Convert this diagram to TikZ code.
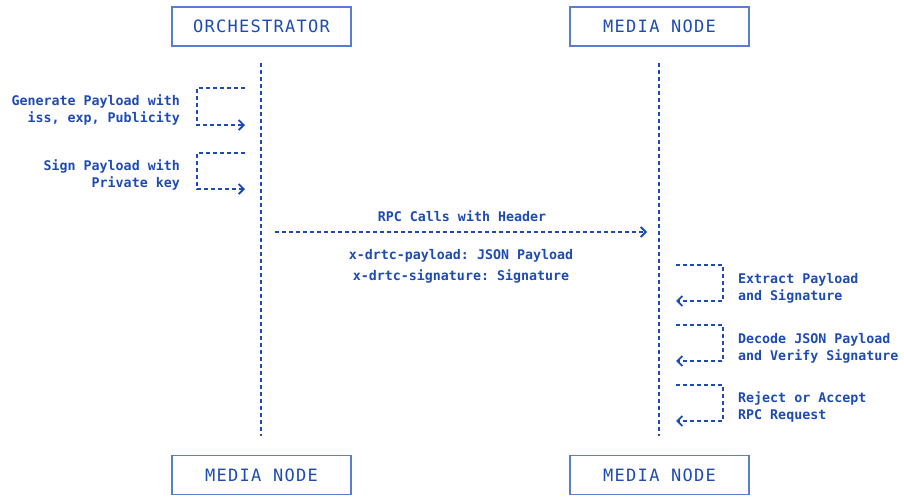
\documentclass[tikz,border=0pt]{standalone}
\usepackage{fontspec}
\setmonofont{DejaVu Sans Mono}
\newfontfamily\headfont[LetterSpace=7.5]{DejaVu Sans Mono}
\usetikzlibrary{arrows.meta}
\definecolor{ink}{HTML}{1E4AB4}
\definecolor{frame}{HTML}{5A7CD2}
\begin{document}
\begin{tikzpicture}[x=1pt,y=-1pt,
  actor/.style={draw=frame,line width=1.4pt,minimum width=179pt,minimum height=39pt,
    inner sep=0pt,text=ink,font=\headfont\fontsize{17}{20}\selectfont},
  lifeline/.style={draw=ink,line width=1.9pt,dash pattern=on 3.5pt off 3.5pt},
  msg/.style={draw=ink,line width=1.7pt,dash pattern=on 4pt off 3pt},
  tip/.style={-{Straight Barb[length=5pt,width=10pt,line width=1.8pt]}},
  lbl/.style={text=ink,font=\ttfamily\bfseries\fontsize{13.3}{17}\selectfont,inner sep=0pt}
]
\useasboundingbox (0,0) rectangle (904,496);

% participants
\node[actor] (orch) at (261.5,26.5) {ORCHESTRATOR};
\node[actor] (mediaT) at (659.5,26.5) {MEDIA NODE};
\node[actor] (orchB) at (261.5,475) {MEDIA NODE};
\node[actor] (mediaB) at (659.5,475) {MEDIA NODE};

% lifelines
\coordinate (oTop) at (261,63);
\coordinate (oBot) at (261,436);
\coordinate (mTop) at (659,63);
\coordinate (mBot) at (659,436);
\draw[lifeline] (oTop) -- (oBot);
\draw[lifeline] (mTop) -- (mBot);

% orchestrator self messages
\coordinate (a1s) at (245,88);
\coordinate (a1e) at (245,125);
\draw[msg,tip] (a1s) -- (197,88) -- (197,125) -- (a1e);
\node[lbl,anchor=east,align=right] (t1) at (180,110) {Generate Payload with\\iss, exp, Publicity};

\coordinate (a2s) at (245,153);
\coordinate (a2e) at (245,189);
\draw[msg,tip] (a2s) -- (197,153) -- (197,189) -- (a2e);
\node[lbl,anchor=east,align=right] (t2) at (180,175) {Sign Payload with\\Private key};

% request to media node
\coordinate (rpcS) at (275,232);
\coordinate (rpcE) at (647,232);
\draw[msg,tip] (rpcS) -- (rpcE);
\node[lbl] (rpc) at (462,216) {RPC Calls with Header};
\node[lbl,align=center] (hdr) at (461,266) {x-drtc-payload: JSON Payload\\[4pt]x-drtc-signature: Signature};

% media node self messages
\coordinate (b1s) at (676,265);
\coordinate (b1e) at (676,301);
\draw[msg,tip] (b1s) -- (723,265) -- (723,301) -- (b1e);
\node[lbl,anchor=west,align=left] (u1) at (738,288) {Extract Payload\\and Signature};

\coordinate (b2s) at (676,325);
\coordinate (b2e) at (676,361);
\draw[msg,tip] (b2s) -- (723,325) -- (723,361) -- (b2e);
\node[lbl,anchor=west,align=left] (u2) at (738,348) {Decode JSON Payload\\and Verify Signature};

\coordinate (b3s) at (676,385);
\coordinate (b3e) at (676,421);
\draw[msg,tip] (b3s) -- (723,385) -- (723,421) -- (b3e);
\node[lbl,anchor=west,align=left] (u3) at (738,407) {Reject or Accept\\RPC Request};
\end{tikzpicture}
\end{document}
